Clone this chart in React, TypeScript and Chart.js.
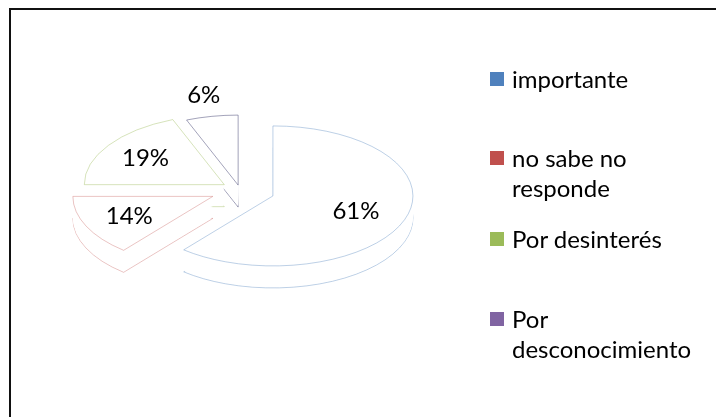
import React, { useEffect, useRef } from 'react';
import { Chart, registerables } from 'chart.js';

Chart.register(...registerables);

// ---- data ----
const categories = ['importante', 'no sabe no responde', 'Por desinterés', 'Por desconocimiento'];
const values = [61, 14, 19, 6];
const valueLabels = values.map((v) => `${v}%`);
const seriesColors = ['#4F81BD', '#C0504D', '#9BBB59', '#8064A2'];
const edgeColors = [
  'rgba(79,129,189,0.5)',
  'rgba(192,80,77,0.45)',
  'rgba(155,187,89,0.55)',
  'rgba(50,50,100,0.6)',
];

// ---- styling / layout constants ----
const FLATTEN = 0.5; // vertical squash of the pie (3D tilt)
const THICKNESS = 22; // px height of the pie side
const EXPLODE = [35, 30, 19, 10]; // px explosion of each slice
const LABEL_RADIUS = [0.63, 0.66, 0.68, 1.31]; // label distance, fraction of radius
const FONT = 'Lato, "Open Sans", sans-serif';
const LEGEND_ROW_CENTERS = [79, 158, 239, 319];

const pie3d = {
  id: 'pie3d',
  beforeDatasetDraw() {
    return false;
  },
  afterDatasetsDraw(chart: any) {
    const ctx: CanvasRenderingContext2D = chart.ctx;
    const arcs: any[] = chart.getDatasetMeta(0).data;
    const drawLayer = (dy: number, withBorder: boolean) => {
      arcs.forEach((arc, i) => {
        const mid = (arc.startAngle + arc.endAngle) / 2;
        ctx.save();
        ctx.translate(0, arc.y * (1 - FLATTEN) + dy);
        ctx.scale(1, FLATTEN);
        ctx.translate(Math.cos(mid) * EXPLODE[i], Math.sin(mid) * EXPLODE[i]);
        const saved = arc.options;
        if (!withBorder) arc.options = { ...saved, borderWidth: 0 };
        arc.draw(ctx);
        arc.options = saved;
        ctx.restore();
      });
    };
    drawLayer(THICKNESS, true);
    for (let d = THICKNESS - 1; d >= 1; d--) drawLayer(d, false);
    drawLayer(0, true);

    ctx.save();
    ctx.font = `24px ${FONT}`;
    ctx.fillStyle = '#000';
    ctx.textAlign = 'center';
    ctx.textBaseline = 'middle';
    arcs.forEach((arc, i) => {
      const mid = (arc.startAngle + arc.endAngle) / 2;
      const d = EXPLODE[i] + LABEL_RADIUS[i] * arc.outerRadius;
      const x = arc.x + Math.cos(mid) * d;
      const y = arc.y + Math.sin(mid) * d * FLATTEN;
      ctx.fillText(valueLabels[i], x, y);
    });
    ctx.restore();
  },
};

export default function App() {
  const canvasRef = useRef<HTMLCanvasElement>(null);

  useEffect(() => {
    const canvas = canvasRef.current;
    if (!canvas) return;
    const chart = new Chart(canvas, {
      type: 'pie',
      data: {
        labels: categories,
        datasets: [
          {
            data: values,
            backgroundColor: values.map(() => '#ffffff'),
            borderColor: edgeColors,
            borderWidth: 1,
          },
        ],
      },
      options: {
        animation: false,
        responsive: false,
        devicePixelRatio: 1,
        events: [],
        radius: 140,
        layout: { padding: { left: 0, right: 236, top: 0, bottom: 37 } },
        plugins: {
          legend: { display: false },
          tooltip: { enabled: false },
        },
      } as any,
      plugins: [pie3d as any],
    });
    return () => chart.destroy();
  }, []);

  return (
    <>
      <div
        style={{
          position: 'absolute',
          left: 9,
          top: 8,
          width: 707,
          height: 409,
          boxSizing: 'border-box',
          borderTop: '2px solid #111',
          borderLeft: '2px solid #111',
          background: '#fff',
        }}
      />
      <canvas
        ref={canvasRef}
        width={716}
        height={417}
        style={{ position: 'absolute', left: 0, top: 0, display: 'block' }}
      />
      {categories.map((c, i) => (
        <div
          key={c}
          style={{
            position: 'absolute',
            left: 490,
            top: LEGEND_ROW_CENTERS[i] - 15,
            width: 220,
            fontFamily: FONT,
            fontSize: 24,
            lineHeight: '30px',
            color: '#000',
          }}
        >
          <span
            style={{
              position: 'absolute',
              left: 0,
              top: 8,
              width: 14,
              height: 14,
              background: seriesColors[i],
            }}
          />
          <div style={{ marginLeft: 22, width: 175 }}>{c}</div>
        </div>
      ))}
    </>
  );
}
